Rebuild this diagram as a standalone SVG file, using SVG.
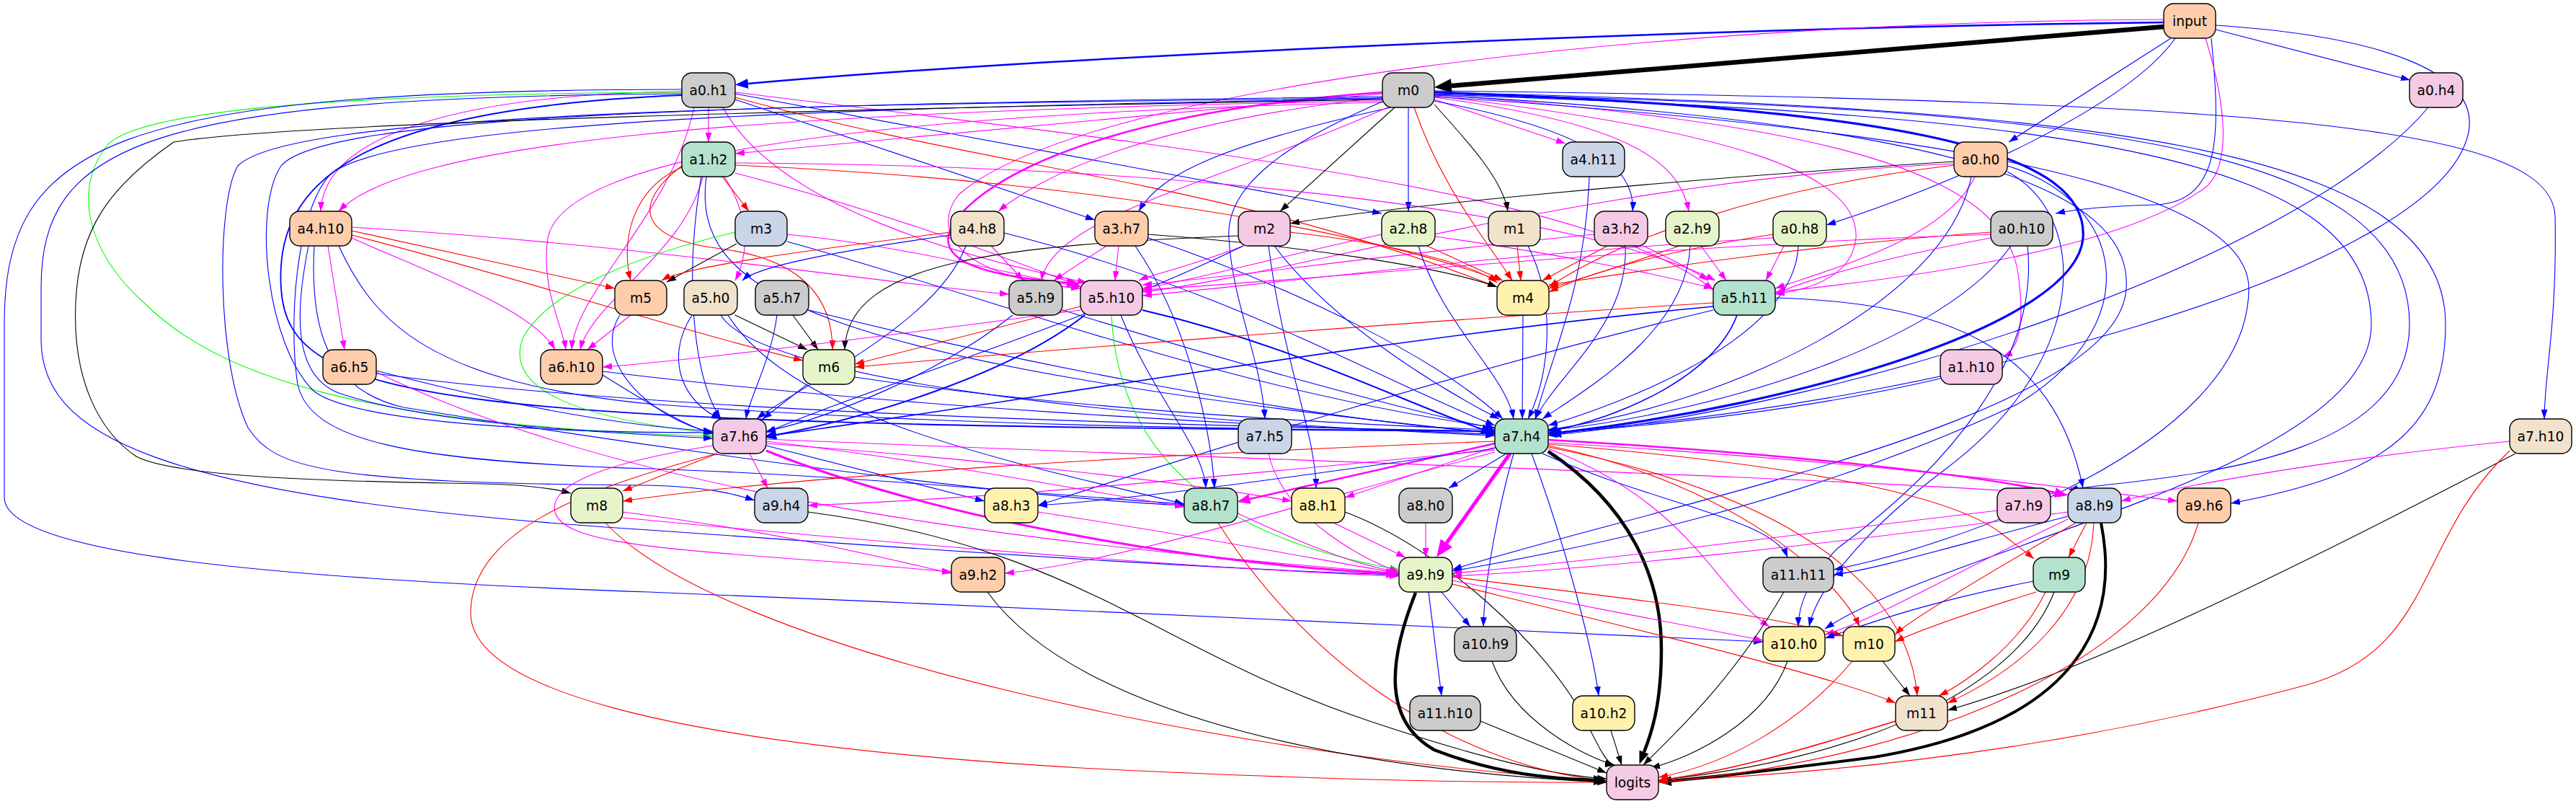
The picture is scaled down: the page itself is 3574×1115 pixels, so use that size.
<svg xmlns="http://www.w3.org/2000/svg" width="3574" height="1115" viewBox="0 0 3574 1115">
<style>
.e{fill:none;stroke-width:1.1}
.b{stroke:#00f;marker-end:url(#ab)}
.r{stroke:#f00;marker-end:url(#ar)}
.m{stroke:#f0f;marker-end:url(#am)}
.k{stroke:#000;marker-end:url(#ak)}
.g{stroke:#0f0;marker-end:url(#ag)}
.node rect{stroke:#000;stroke-width:1.4}
.node text{font-family:"DejaVu Sans",sans-serif;font-size:18.67px;text-anchor:middle;fill:#000}
.c1{fill:#b3e2cd}.c2{fill:#fdcdac}.c3{fill:#cbd5e8}.c4{fill:#f4cae4}.c5{fill:#e6f5c9}.c6{fill:#fff2ae}.c7{fill:#f1e2cc}.c8{fill:#cccccc}
</style>
<defs>
<marker id="ab" viewBox="0 0 13 9" refX="13" refY="4.5" markerWidth="13" markerHeight="9" markerUnits="userSpaceOnUse" orient="auto"><path d="M0,0L13,4.5L0,9z" fill="#00f"/></marker>
<marker id="ar" viewBox="0 0 13 9" refX="13" refY="4.5" markerWidth="13" markerHeight="9" markerUnits="userSpaceOnUse" orient="auto"><path d="M0,0L13,4.5L0,9z" fill="#f00"/></marker>
<marker id="am" viewBox="0 0 13 9" refX="13" refY="4.5" markerWidth="13" markerHeight="9" markerUnits="userSpaceOnUse" orient="auto"><path d="M0,0L13,4.5L0,9z" fill="#f0f"/></marker>
<marker id="ak" viewBox="0 0 13 9" refX="13" refY="4.5" markerWidth="13" markerHeight="9" markerUnits="userSpaceOnUse" orient="auto"><path d="M0,0L13,4.5L0,9z" fill="#000"/></marker>
<marker id="ag" viewBox="0 0 13 9" refX="13" refY="4.5" markerWidth="13" markerHeight="9" markerUnits="userSpaceOnUse" orient="auto"><path d="M0,0L13,4.5L0,9z" fill="#0f0"/></marker>
<marker id="bL" viewBox="0 0 18 14" refX="0" refY="7" markerWidth="18" markerHeight="14" markerUnits="userSpaceOnUse" orient="auto"><path d="M0,0L18,7L0,14z" fill="#00f"/></marker>
<marker id="mL" viewBox="0 0 18 14" refX="0" refY="7" markerWidth="18" markerHeight="14" markerUnits="userSpaceOnUse" orient="auto"><path d="M0,0L18,7L0,14z" fill="#f0f"/></marker>
<marker id="kL" viewBox="0 0 18 14" refX="0" refY="7" markerWidth="18" markerHeight="14" markerUnits="userSpaceOnUse" orient="auto"><path d="M0,0L18,7L0,14z" fill="#000"/></marker>
<marker id="kX" viewBox="0 0 24 20" refX="0" refY="10" markerWidth="24" markerHeight="20" markerUnits="userSpaceOnUse" orient="auto"><path d="M0,0L24,10L0,20z" fill="#000"/></marker>
<marker id="mX" viewBox="0 0 24 20" refX="0" refY="10" markerWidth="24" markerHeight="20" markerUnits="userSpaceOnUse" orient="auto"><path d="M0,0L24,10L0,20z" fill="#f0f"/></marker>
</defs>
<rect width="3574" height="1115" fill="#fff"/>
<g id="edges">
<path class="e k" style="stroke-width:6.5;marker-end:url(#kX)" d="M3003,37 L2014,119"/>
<path class="e b" style="stroke-width:2.5;marker-end:url(#bL)" d="M3003,31 C2400,38 1500,75 1038,116"/>
<path class="e b" d="M3074,41 L3344,111"/>
<path class="e b" d="M3012,53 L2787,197"/>
<path class="e b" d="M3068,53 C3080,180 3085,280 2990,284 C2920,286 2880,290 2852,296"/>
<path class="e b" d="M3018,53 C2950,150 2700,260 2534,312"/>
<path class="e m" d="M3060,53 C3090,150 3095,230 3060,260 C2950,340 2700,380 2463,405"/>
<path class="e b" d="M3074,35 C3300,50 3460,100 3420,200 C3350,380 2700,560 2148,600"/>
<path class="e m" d="M3003,27 C2300,30 1500,120 1330,270 C1290,320 1330,385 1499,400"/>
<path class="e m" d="M983,149 L983,197"/>
<path class="e b" d="M1020,138 L1519,305"/>
<path class="e b" d="M1020,130 L1917,296"/>
<path class="e r" d="M1020,135 C1400,240 1700,250 2077,398"/>
<path class="e m" d="M1020,128 C1600,200 2200,260 2377,402"/>
<path class="e m" d="M946,127 C700,130 450,170 445,293"/>
<path class="e m" d="M963,149 C930,300 800,400 793,485"/>
<path class="e m" d="M1003,149 C1080,290 1350,360 1508,392"/>
<path class="e g" d="M946,128 C500,130 200,150 150,200 C100,260 120,350 200,420 C300,520 500,590 989,605"/>
<path class="e b" style="stroke-width:1.8" d="M946,132 C500,150 380,250 390,400 C400,560 600,590 2074,598"/>
<path class="e b" d="M946,130 C200,135 57,200 57,400 L57,470 C57,600 200,690 900,735 C1400,770 1700,790 1941,797"/>
<path class="e b" d="M946,124 C150,125 6,200 6,450 L6,690 C6,760 300,800 900,821 C1500,845 2200,880 2446,890"/>
<path class="e m" d="M1918,130 L1020,213"/>
<path class="e m" d="M1990,138 L2172,199"/>
<path class="e k" d="M1935,149 L1776,293"/>
<path class="e b" d="M1954,149 L1954,293"/>
<path class="e k" d="M1990,145 C2040,200 2085,250 2092,293"/>
<path class="e r" d="M1962,149 C2000,260 2060,330 2098,389"/>
<path class="e b" d="M1990,140 C2200,180 2270,230 2265,293"/>
<path class="e m" d="M1990,135 C2250,170 2330,220 2343,293"/>
<path class="e b" d="M1930,149 C1700,200 1610,240 1580,293"/>
<path class="e m" d="M1918,135 C1600,170 1450,240 1385,293"/>
<path class="e m" style="stroke-width:2.5;marker-end:url(#mL)" d="M1918,128 C1600,150 1400,220 1330,300 C1290,350 1330,380 1480,392"/>
<path class="e m" d="M1925,149 C1700,250 1460,300 1445,389"/>
<path class="e m" d="M1990,133 C2400,180 2580,240 2575,330 C2570,380 2520,400 2463,408"/>
<path class="e m" d="M1990,131 C2500,170 2780,230 2800,380 C2810,450 2800,485 2779,495"/>
<path class="e b" style="stroke-width:3.2;marker-end:url(#bL)" d="M1990,128 C2600,150 2900,200 2890,330 C2880,450 2500,560 2166,600"/>
<path class="e b" d="M1990,126 C3200,140 3540,180 3545,300 C3548,450 3530,520 3530,581"/>
<path class="e b" d="M1990,128 C2900,150 3393,200 3393,450 C3393,600 3300,660 3095,698"/>
<path class="e b" d="M1990,130 C2900,150 3343,200 3343,450 C3343,650 3000,660 2870,679"/>
<path class="e b" d="M1990,131 C2900,160 3290,220 3290,450 C3290,650 2700,760 2532,872"/>
<path class="e b" d="M1990,132 C2700,170 2960,260 2950,400 C2940,580 2300,700 2015,790"/>
<path class="e b" d="M1990,134 C2700,180 3120,260 3120,400 C3120,620 2700,760 2544,790"/>
<path class="e b" d="M1918,137 C1100,150 560,170 460,240 C410,290 400,450 413,533 C430,610 560,640 900,650 C1200,660 1500,690 1643,699"/>
<path class="e b" d="M1918,134 C1000,145 450,160 390,230 C350,290 370,480 436,543 C500,590 800,600 989,600"/>
<path class="e b" d="M1918,136 C1000,145 400,160 330,230 C300,280 300,500 344,593 C380,650 450,670 900,673 C980,675 1020,685 1047,694"/>
<path class="e k" d="M1918,138 C1200,150 400,170 241,197 C150,260 109,320 105,420 C100,530 140,600 189,633 C260,670 600,668 700,672 C740,674 770,678 792,684"/>
<path class="e m" d="M1918,140 C1000,155 560,200 470,293"/>
<path class="e m" d="M1918,142 C1100,160 780,230 760,330 C750,400 780,450 785,485"/>
<path class="e b" d="M1920,140 C1780,200 1700,260 1705,330 C1710,420 1750,500 1755,581"/>
<path class="e b" d="M3369,149 C3200,350 2600,560 2148,604"/>
<path class="e r" d="M1002,245 L1039,293"/>
<path class="e r" d="M946,232 C880,260 860,330 875,389"/>
<path class="e r" d="M946,230 C880,280 880,330 1000,345 C1120,360 1155,420 1155,485"/>
<path class="e m" d="M975,245 C950,350 820,420 805,485"/>
<path class="e m" d="M1020,226 C1700,230 2200,300 2380,389"/>
<path class="e r" d="M1020,229 C1500,250 1900,320 2080,389"/>
<path class="e b" d="M973,245 C950,380 960,520 1000,581"/>
<path class="e b" d="M980,245 C960,400 1100,500 2074,601"/>
<path class="e m" d="M1005,245 C1040,300 1040,350 1020,389"/>
<path class="e m" d="M1020,240 C1250,300 1400,360 1499,397"/>
<path class="e b" d="M2205,245 C2200,400 2150,500 2130,581"/>
<path class="e k" d="M2711,224 C2300,250 1900,290 1790,310"/>
<path class="e r" d="M2711,229 C2450,260 2250,330 2149,398"/>
<path class="e m" d="M2711,227 C2200,250 1800,380 1585,405"/>
<path class="e m" d="M2740,245 C2700,330 2550,370 2463,400"/>
<path class="e b" d="M2735,245 C2700,420 2400,560 2148,596"/>
<path class="e b" d="M2785,230 C2950,280 2980,450 2800,560 C2500,700 2200,760 2015,792"/>
<path class="e b" d="M2785,238 C2900,300 2900,500 2700,650 C2580,740 2520,820 2510,869"/>
<path class="e m" d="M455,341 L478,485"/>
<path class="e m" d="M488,330 C600,380 740,430 770,485"/>
<path class="e r" d="M488,320 L853,400"/>
<path class="e r" d="M488,326 C700,380 950,460 1114,500"/>
<path class="e m" d="M488,315 C900,340 1200,390 1400,408"/>
<path class="e b" d="M428,341 C410,430 405,520 470,545 C600,590 850,600 989,608"/>
<path class="e b" d="M436,341 C430,450 450,540 560,565 C900,620 1400,690 1643,701"/>
<path class="e b" d="M470,341 C520,450 600,530 900,560 C1300,590 1700,595 2074,598"/>
<path class="e k" d="M1022,338 L925,391"/>
<path class="e g" d="M1020,322 C900,350 760,400 725,470 C700,540 800,580 989,601"/>
<path class="e b" d="M1092,335 C1400,420 1700,540 2074,593"/>
<path class="e m" d="M1092,325 C1250,340 1400,380 1499,398"/>
<path class="e r" d="M1319,322 C1100,350 950,370 918,389"/>
<path class="e b" d="M1319,326 C1150,350 1050,370 1030,389"/>
<path class="e b" d="M1393,323 C1700,400 1900,520 2074,590"/>
<path class="e b" d="M1340,341 C1300,450 1100,540 1050,581"/>
<path class="e m" d="M1375,341 L1420,389"/>
<path class="e m" d="M1552,341 L1547,389"/>
<path class="e m" d="M1535,341 L1462,389"/>
<path class="e k" d="M1593,325 C1800,340 2000,370 2077,398"/>
<path class="e b" d="M1593,330 C1800,400 2000,500 2085,581"/>
<path class="e b" d="M1575,341 C1650,450 1680,600 1685,677"/>
<path class="e m" d="M1725,341 C1650,370 1600,380 1580,389"/>
<path class="e b" d="M1725,341 C1500,450 1200,540 1063,600"/>
<path class="e k" d="M1718,327 C1400,340 1175,360 1172,485"/>
<path class="e r" d="M1790,322 C1950,340 2050,370 2077,392"/>
<path class="e b" d="M1768,341 C1850,450 2000,540 2080,581"/>
<path class="e b" d="M1760,341 C1780,500 1825,600 1826,677"/>
<path class="e r" d="M1980,341 L2085,389"/>
<path class="e m" d="M1917,325 C1800,350 1650,390 1585,400"/>
<path class="e b" d="M1968,341 C2000,450 2090,520 2100,581"/>
<path class="e m" d="M1991,328 C2150,350 2300,380 2377,400"/>
<path class="e r" d="M2105,341 L2110,389"/>
<path class="e b" d="M2120,341 C2160,420 2150,520 2120,581"/>
<path class="e r" d="M2230,341 L2140,389"/>
<path class="e m" d="M2212,325 C1950,350 1700,385 1585,395"/>
<path class="e b" d="M2255,341 C2260,450 2160,520 2130,581"/>
<path class="e m" d="M2280,341 C2320,360 2350,375 2370,389"/>
<path class="e r" d="M2330,341 C2250,370 2180,390 2149,400"/>
<path class="e m" d="M2360,341 L2395,389"/>
<path class="e b" d="M2345,341 C2340,460 2200,540 2140,581"/>
<path class="e r" d="M2460,325 C2300,350 2200,380 2149,405"/>
<path class="e m" d="M2475,341 L2450,389"/>
<path class="e b" d="M2495,341 C2490,470 2250,560 2148,590"/>
<path class="e m" d="M2460,330 C2100,350 1800,390 1585,410"/>
<path class="e r" d="M2762,322 C2500,340 2250,380 2149,395"/>
<path class="e m" d="M2762,325 C2300,340 1800,390 1585,402"/>
<path class="e m" d="M2762,330 C2600,360 2500,390 2463,408"/>
<path class="e b" d="M2790,341 C2700,470 2400,570 2148,597"/>
<path class="e b" d="M2813,341 C2830,500 2700,650 2550,760 C2510,800 2495,840 2495,869"/>
<path class="e m" d="M875,437 L815,485"/>
<path class="e b" d="M860,437 C820,500 900,580 989,600"/>
<path class="e k" d="M1020,437 L1120,485"/>
<path class="e b" d="M960,437 C920,500 950,560 1000,581"/>
<path class="e b" d="M1000,437 C1050,520 1500,580 2074,604"/>
<path class="e b" d="M1010,437 C1100,580 1400,640 1643,699"/>
<path class="e k" d="M1100,437 L1135,485"/>
<path class="e b" d="M1078,437 C1070,500 1040,550 1035,581"/>
<path class="e b" d="M1122,430 C1400,500 1800,580 2074,600"/>
<path class="e b" d="M1405,437 C1300,520 1150,580 1063,598"/>
<path class="e b" d="M1474,430 C1700,500 1950,570 2074,594"/>
<path class="e r" d="M1499,425 L1186,505"/>
<path class="e m" d="M1499,430 C1200,470 950,500 836,509"/>
<path class="e b" style="stroke-width:2;marker-end:url(#bL)" d="M1505,437 C1400,520 1200,580 1077,603"/>
<path class="e b" style="stroke-width:2;marker-end:url(#bL)" d="M1585,430 C1800,480 1950,560 2056,595"/>
<path class="e b" d="M1555,437 C1600,550 1670,620 1673,677"/>
<path class="e g" d="M1542,437 C1550,600 1650,740 1941,790"/>
<path class="e b" d="M2113,437 L2112,581"/>
<path class="e r" d="M2377,420 C1900,450 1400,490 1186,509"/>
<path class="e b" style="stroke-width:1.6" d="M2377,425 C1900,470 1400,560 1063,605"/>
<path class="e b" style="stroke-width:1.6" d="M2410,437 C2380,520 2250,580 2148,598"/>
<path class="e b" d="M2377,430 C2000,520 1600,650 1440,701"/>
<path class="e b" d="M2463,413 C2700,420 2850,480 2890,677"/>
<path class="e b" d="M522,518 C900,570 1600,590 2074,598"/>
<path class="e b" d="M522,514 C700,560 850,590 989,598"/>
<path class="e m" d="M522,516 C900,700 1500,760 1941,795"/>
<path class="e b" d="M836,520 C900,560 950,590 989,602"/>
<path class="e b" d="M836,515 C1200,560 1700,590 2074,602"/>
<path class="e b" d="M1120,533 L1058,581"/>
<path class="e b" d="M1186,523 C1500,570 1900,590 2074,596"/>
<path class="e b" d="M2692,525 C2500,570 2300,590 2148,601"/>
<path class="e r" d="M995,629 L864,681"/>
<path class="e m" d="M1040,629 L1065,677"/>
<path class="e b" d="M1063,618 L1366,695"/>
<path class="e m" d="M1063,612 C1300,640 1500,680 1643,703"/>
<path class="e m" style="stroke-width:3;marker-end:url(#mL)" d="M1063,625 C1300,720 1650,780 1923,795"/>
<path class="e m" d="M1063,609 C1800,640 2500,660 2869,686"/>
<path class="e m" d="M1063,615 C1400,640 1650,670 1792,695"/>
<path class="e m" d="M989,618 C850,640 760,670 770,710 C780,750 900,760 1100,775 C1200,782 1280,790 1320,793"/>
<path class="e r" d="M995,629 C800,680 653,740 653,850 C653,950 900,1030 1500,1065 C1900,1085 2100,1085 2229,1085"/>
<path class="e m" d="M1760,629 C1780,720 1900,780 1941,793"/>
<path class="e k" style="stroke-width:4.5;marker-end:url(#kL)" d="M2148,626 C2260,700 2305,800 2305,900 C2305,980 2290,1020 2281,1043"/>
<path class="e m" style="stroke-width:5;marker-end:url(#mX)" d="M2095,629 L2007,753"/>
<path class="e m" style="stroke-width:2.5;marker-end:url(#mL)" d="M2074,615 L1734,692"/>
<path class="e m" d="M2074,620 L1866,690"/>
<path class="e b" d="M2090,629 L2010,677"/>
<path class="e b" d="M2074,622 C1800,660 1600,690 1440,701"/>
<path class="e m" d="M2074,624 C1700,660 1400,690 1121,701"/>
<path class="e r" d="M2074,612 C1600,630 1100,660 864,695"/>
<path class="e m" d="M2074,627 C1800,700 1550,780 1394,795"/>
<path class="e m" style="stroke-width:2.5;marker-end:url(#mL)" d="M2148,610 C2500,630 2750,660 2851,683"/>
<path class="e m" d="M2148,614 C2600,640 2900,680 3021,695"/>
<path class="e r" d="M2148,616 C2450,640 2700,680 2777,740 C2795,754 2810,765 2822,775"/>
<path class="e b" d="M2140,629 C2300,700 2460,720 2480,773"/>
<path class="e b" d="M2100,629 C2080,700 2060,800 2058,869"/>
<path class="e b" d="M2125,629 C2170,750 2210,900 2218,965"/>
<path class="e m" d="M2148,622 C2350,700 2380,820 2455,869"/>
<path class="e r" d="M2148,618 C2400,670 2550,800 2580,869"/>
<path class="e r" d="M2148,620 C2550,700 2650,850 2660,965"/>
<path class="e m" d="M3482,612 C3200,640 3000,680 2943,695"/>
<path class="e k" d="M3490,629 C3200,780 2900,930 2702,985"/>
<path class="e r" d="M3482,625 C3350,750 3380,900 3200,950 C2900,1030 2600,1070 2301,1083"/>
<path class="e m" d="M864,710 C1100,740 1250,780 1320,795"/>
<path class="e r" d="M840,725 C1000,900 1700,1050 2229,1083"/>
<path class="e m" d="M864,718 C1300,760 1700,790 1941,799"/>
<path class="e k" d="M1121,710 C1500,760 1600,900 1900,1000 C2050,1050 2150,1075 2229,1080"/>
<path class="e m" d="M1440,710 C1700,750 1850,780 1941,795"/>
<path class="e r" d="M1690,725 C1800,900 2000,1060 2229,1083"/>
<path class="e m" d="M1717,712 C1800,750 1880,785 1941,793"/>
<path class="e k" d="M1866,710 C2000,760 2150,900 2200,1000 C2220,1040 2230,1060 2240,1061"/>
<path class="e m" d="M1850,725 L1950,773"/>
<path class="e m" d="M1978,725 L1978,773"/>
<path class="e m" d="M2771,708 C2500,740 2200,780 2015,795"/>
<path class="e k" style="stroke-width:4;marker-end:url(#kL)" d="M2915,725 C2940,850 2900,1000 2600,1050 C2450,1070 2350,1080 2319,1083"/>
<path class="e m" d="M2869,710 C2500,760 2200,790 2015,799"/>
<path class="e b" d="M2869,716 C2700,760 2600,790 2544,797"/>
<path class="e r" d="M2895,725 L2870,773"/>
<path class="e r" d="M2880,725 C2750,800 2650,860 2629,880"/>
<path class="e m" d="M2869,720 C2700,800 2600,860 2532,880"/>
<path class="e r" d="M2905,725 C2900,850 2800,930 2702,975"/>
<path class="e r" d="M3050,725 C3000,900 2700,1050 2301,1085"/>
<path class="e k" d="M1370,821 C1500,1000 1900,1070 2229,1085"/>
<path class="e k" style="stroke-width:4.5;marker-end:url(#kL)" d="M1964,822 C1925,920 1920,1000 1990,1040 C2080,1075 2160,1080 2211,1082"/>
<path class="e b" d="M2000,821 L2040,869"/>
<path class="e b" d="M1982,821 L2000,965"/>
<path class="e m" d="M2015,805 C2200,840 2350,870 2446,888"/>
<path class="e r" d="M2015,800 C2250,830 2450,850 2557,882"/>
<path class="e r" d="M2015,810 C2300,880 2550,940 2630,975"/>
<path class="e k" d="M2475,821 C2400,950 2320,1020 2280,1061"/>
<path class="e b" d="M2821,806 C2650,840 2580,870 2532,885"/>
<path class="e r" d="M2825,821 C2700,860 2650,880 2629,890"/>
<path class="e r" d="M2838,821 C2800,900 2720,950 2690,965"/>
<path class="e k" d="M2850,821 C2800,950 2600,1050 2301,1082"/>
<path class="e k" d="M2070,917 C2100,1000 2200,1050 2240,1061"/>
<path class="e k" d="M2480,917 C2450,1000 2350,1050 2290,1065"/>
<path class="e k" d="M2612,917 L2650,965"/>
<path class="e r" d="M2570,917 C2500,1000 2400,1060 2301,1078"/>
<path class="e k" d="M2054,1000 C2150,1040 2200,1060 2229,1072"/>
<path class="e k" d="M2235,1013 L2250,1061"/>
<path class="e r" style="stroke-width:1.5" d="M2630,1000 C2500,1040 2400,1070 2301,1082"/>
</g>
<g id="nodes">
<g class="node" id="input"><rect class="c2" x="3002" y="5" width="72" height="48" rx="14"/><text x="3038" y="35.5">input</text></g>
<g class="node" id="a0.h1"><rect class="c8" x="946" y="101" width="74" height="48" rx="14"/><text x="983" y="131.5">a0.h1</text></g>
<g class="node" id="m0"><rect class="c8" x="1918" y="101" width="72" height="48" rx="14"/><text x="1954" y="131.5">m0</text></g>
<g class="node" id="a0.h4"><rect class="c4" x="3343" y="101" width="74" height="48" rx="14"/><text x="3380" y="131.5">a0.h4</text></g>
<g class="node" id="a1.h2"><rect class="c1" x="946" y="197" width="74" height="48" rx="14"/><text x="983" y="227.5">a1.h2</text></g>
<g class="node" id="a4.h11"><rect class="c3" x="2168" y="197" width="86" height="48" rx="14"/><text x="2211" y="227.5">a4.h11</text></g>
<g class="node" id="a0.h0"><rect class="c2" x="2711" y="197" width="74" height="48" rx="14"/><text x="2748" y="227.5">a0.h0</text></g>
<g class="node" id="a4.h10"><rect class="c2" x="402" y="293" width="86" height="48" rx="14"/><text x="445" y="323.5">a4.h10</text></g>
<g class="node" id="m3"><rect class="c3" x="1020" y="293" width="72" height="48" rx="14"/><text x="1056" y="323.5">m3</text></g>
<g class="node" id="a4.h8"><rect class="c7" x="1319" y="293" width="74" height="48" rx="14"/><text x="1356" y="323.5">a4.h8</text></g>
<g class="node" id="a3.h7"><rect class="c2" x="1519" y="293" width="74" height="48" rx="14"/><text x="1556" y="323.5">a3.h7</text></g>
<g class="node" id="m2"><rect class="c4" x="1718" y="293" width="72" height="48" rx="14"/><text x="1754" y="323.5">m2</text></g>
<g class="node" id="a2.h8"><rect class="c5" x="1917" y="293" width="74" height="48" rx="14"/><text x="1954" y="323.5">a2.h8</text></g>
<g class="node" id="m1"><rect class="c7" x="2065" y="293" width="72" height="48" rx="14"/><text x="2101" y="323.5">m1</text></g>
<g class="node" id="a3.h2"><rect class="c4" x="2212" y="293" width="74" height="48" rx="14"/><text x="2249" y="323.5">a3.h2</text></g>
<g class="node" id="a2.h9"><rect class="c5" x="2311" y="293" width="74" height="48" rx="14"/><text x="2348" y="323.5">a2.h9</text></g>
<g class="node" id="a0.h8"><rect class="c5" x="2460" y="293" width="74" height="48" rx="14"/><text x="2497" y="323.5">a0.h8</text></g>
<g class="node" id="a0.h10"><rect class="c8" x="2762" y="293" width="86" height="48" rx="14"/><text x="2805" y="323.5">a0.h10</text></g>
<g class="node" id="m5"><rect class="c2" x="853" y="389" width="72" height="48" rx="14"/><text x="889" y="419.5">m5</text></g>
<g class="node" id="a5.h0"><rect class="c7" x="949" y="389" width="74" height="48" rx="14"/><text x="986" y="419.5">a5.h0</text></g>
<g class="node" id="a5.h7"><rect class="c8" x="1048" y="389" width="74" height="48" rx="14"/><text x="1085" y="419.5">a5.h7</text></g>
<g class="node" id="a5.h9"><rect class="c8" x="1400" y="389" width="74" height="48" rx="14"/><text x="1437" y="419.5">a5.h9</text></g>
<g class="node" id="a5.h10"><rect class="c4" x="1499" y="389" width="86" height="48" rx="14"/><text x="1542" y="419.5">a5.h10</text></g>
<g class="node" id="m4"><rect class="c6" x="2077" y="389" width="72" height="48" rx="14"/><text x="2113" y="419.5">m4</text></g>
<g class="node" id="a5.h11"><rect class="c1" x="2377" y="389" width="86" height="48" rx="14"/><text x="2420" y="419.5">a5.h11</text></g>
<g class="node" id="a6.h5"><rect class="c2" x="448" y="485" width="74" height="48" rx="14"/><text x="485" y="515.5">a6.h5</text></g>
<g class="node" id="a6.h10"><rect class="c2" x="750" y="485" width="86" height="48" rx="14"/><text x="793" y="515.5">a6.h10</text></g>
<g class="node" id="m6"><rect class="c5" x="1114" y="485" width="72" height="48" rx="14"/><text x="1150" y="515.5">m6</text></g>
<g class="node" id="a1.h10"><rect class="c4" x="2692" y="485" width="86" height="48" rx="14"/><text x="2735" y="515.5">a1.h10</text></g>
<g class="node" id="a7.h6"><rect class="c4" x="989" y="581" width="74" height="48" rx="14"/><text x="1026" y="611.5">a7.h6</text></g>
<g class="node" id="a7.h5"><rect class="c3" x="1718" y="581" width="74" height="48" rx="14"/><text x="1755" y="611.5">a7.h5</text></g>
<g class="node" id="a7.h4"><rect class="c1" x="2074" y="581" width="74" height="48" rx="14"/><text x="2111" y="611.5">a7.h4</text></g>
<g class="node" id="a7.h10"><rect class="c7" x="3482" y="581" width="86" height="48" rx="14"/><text x="3525" y="611.5">a7.h10</text></g>
<g class="node" id="m8"><rect class="c5" x="792" y="677" width="72" height="48" rx="14"/><text x="828" y="707.5">m8</text></g>
<g class="node" id="a9.h4"><rect class="c3" x="1047" y="677" width="74" height="48" rx="14"/><text x="1084" y="707.5">a9.h4</text></g>
<g class="node" id="a8.h3"><rect class="c6" x="1366" y="677" width="74" height="48" rx="14"/><text x="1403" y="707.5">a8.h3</text></g>
<g class="node" id="a8.h7"><rect class="c1" x="1643" y="677" width="74" height="48" rx="14"/><text x="1680" y="707.5">a8.h7</text></g>
<g class="node" id="a8.h1"><rect class="c6" x="1792" y="677" width="74" height="48" rx="14"/><text x="1829" y="707.5">a8.h1</text></g>
<g class="node" id="a8.h0"><rect class="c8" x="1941" y="677" width="74" height="48" rx="14"/><text x="1978" y="707.5">a8.h0</text></g>
<g class="node" id="a7.h9"><rect class="c4" x="2771" y="677" width="74" height="48" rx="14"/><text x="2808" y="707.5">a7.h9</text></g>
<g class="node" id="a8.h9"><rect class="c3" x="2869" y="677" width="74" height="48" rx="14"/><text x="2906" y="707.5">a8.h9</text></g>
<g class="node" id="a9.h6"><rect class="c2" x="3021" y="677" width="74" height="48" rx="14"/><text x="3058" y="707.5">a9.h6</text></g>
<g class="node" id="a9.h2"><rect class="c2" x="1320" y="773" width="74" height="48" rx="14"/><text x="1357" y="803.5">a9.h2</text></g>
<g class="node" id="a9.h9"><rect class="c5" x="1941" y="773" width="74" height="48" rx="14"/><text x="1978" y="803.5">a9.h9</text></g>
<g class="node" id="a11.h11"><rect class="c8" x="2446" y="773" width="98" height="48" rx="14"/><text x="2495" y="803.5">a11.h11</text></g>
<g class="node" id="m9"><rect class="c1" x="2821" y="773" width="72" height="48" rx="14"/><text x="2857" y="803.5">m9</text></g>
<g class="node" id="a10.h9"><rect class="c8" x="2018" y="869" width="86" height="48" rx="14"/><text x="2061" y="899.5">a10.h9</text></g>
<g class="node" id="a10.h0"><rect class="c6" x="2446" y="869" width="86" height="48" rx="14"/><text x="2489" y="899.5">a10.h0</text></g>
<g class="node" id="m10"><rect class="c6" x="2557" y="869" width="72" height="48" rx="14"/><text x="2593" y="899.5">m10</text></g>
<g class="node" id="a11.h10"><rect class="c8" x="1956" y="965" width="98" height="48" rx="14"/><text x="2005" y="995.5">a11.h10</text></g>
<g class="node" id="a10.h2"><rect class="c6" x="2182" y="965" width="86" height="48" rx="14"/><text x="2225" y="995.5">a10.h2</text></g>
<g class="node" id="m11"><rect class="c7" x="2630" y="965" width="72" height="48" rx="14"/><text x="2666" y="995.5">m11</text></g>
<g class="node" id="logits"><rect class="c4" x="2229" y="1061" width="72" height="48" rx="14"/><text x="2265" y="1091.5">logits</text></g>
</g>
</svg>
